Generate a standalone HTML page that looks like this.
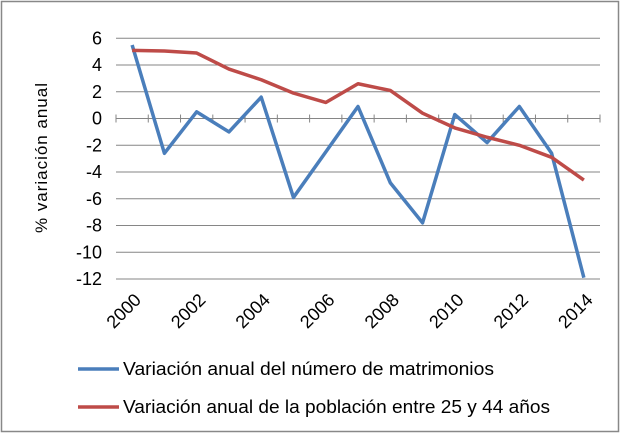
<!DOCTYPE html>
<html><head><meta charset="utf-8"><style>
html,body{margin:0;padding:0;background:#fff;}
svg{display:block;font-family:"Liberation Sans",sans-serif;}
</style></head><body>
<svg id="chart" width="624" height="437">
<rect x="1.5" y="1.5" width="617" height="430" fill="#fff" stroke="#888" stroke-width="1.5"/>
<g id="grid"></g><g id="axes"></g><g id="series"></g>
<text x="0" y="0" transform="translate(47,158) rotate(-90)" text-anchor="middle" font-size="17" textLength="150" fill="#000">% variación anual</text>
<g>
<line x1="78" y1="369" x2="119" y2="369" stroke="#4a7ebb" stroke-width="3.5"/>
<text x="123" y="375" font-size="18" textLength="371" lengthAdjust="spacingAndGlyphs">Variación anual del número de matrimonios</text>
<line x1="78" y1="407" x2="119" y2="407" stroke="#be4b48" stroke-width="3.5"/>
<text x="123" y="413" font-size="18" textLength="427" lengthAdjust="spacingAndGlyphs">Variación anual de la población entre 25 y 44 años</text>
</g>
</svg>
<script>
const years = [2000,2001,2002,2003,2004,2005,2006,2007,2008,2009,2010,2011,2012,2013,2014];
const matrimonios = [5.5,-2.6,0.5,-1.0,1.6,-5.9,-2.5,0.9,-4.8,-7.8,0.3,-1.8,0.9,-2.6,-11.9];
const poblacion = [5.1,5.05,4.9,3.7,2.9,1.9,1.2,2.6,2.1,0.4,-0.7,-1.4,-2.0,-2.9,-4.6];
const yTicks = [6,4,2,0,-2,-4,-6,-8,-10,-12];
const NS="http://www.w3.org/2000/svg";
const L=116,R=600,T=38.3,B=279;
const yMin=-12,yMax=6;
function x(i){return L+(R-L)/years.length*(i+0.5);}
function y(v){return T+(yMax-v)/(yMax-yMin)*(B-T);}
function mk(tag,attrs,parent){const e=document.createElementNS(NS,tag);for(const k in attrs)e.setAttribute(k,attrs[k]);parent.appendChild(e);return e;}
const grid=document.getElementById('grid'),axes=document.getElementById('axes'),series=document.getElementById('series');
yTicks.forEach(t=>{
  const ln=mk('line',{x1:L,x2:R,y1:y(t),y2:y(t),stroke:'#868686','stroke-width':1},grid);
  
  
  const tx=mk('text',{x:102,y:y(t)+6,'text-anchor':'end','font-size':18,fill:'#000'},axes);
  tx.textContent=String(t);
  
  
});
for(let i=0;i<=years.length;i++){
  const xx=L+(R-L)/years.length*i;
  const tk=mk('line',{x1:xx,x2:xx,y1:y(0)-4,y2:y(0)+4,stroke:'#868686'},axes);
  
  
}
years.forEach((yr,i)=>{
  if(i%2)return;
  const tx=mk('text',{x:0,y:0,transform:`translate(${x(i)+10},${301}) rotate(-45)`,'text-anchor':'end','font-size':18,fill:'#000'},axes);
  tx.textContent=String(yr);
  
  
});
function line(vals,color,name){
  const p=mk('polyline',{points:vals.map((v,i)=>x(i)+','+y(v)).join(' '),fill:'none',stroke:color,'stroke-width':3.5,'stroke-linejoin':'round'},series);
  
  
}
line(matrimonios,'#4a7ebb','series-matrimonios');
line(poblacion,'#be4b48','series-poblacion');
</script>
</body></html>
